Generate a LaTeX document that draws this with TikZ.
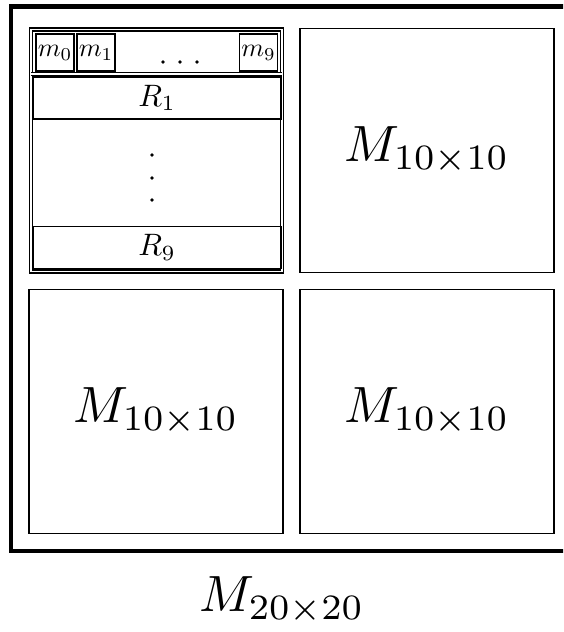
\documentclass[tikz,border=0pt]{standalone}
\usepackage{amsmath}
\usetikzlibrary{positioning}
\newcommand{\bigsym}[2][2.55]{\scalebox{#1}{$#2$}}
\tikzset{
  cellbox/.style={draw, line width=0.8pt, minimum width=127pt, minimum height=122pt, inner sep=0pt},
  rowbox/.style={draw, line width=0.7pt, minimum width=124pt, minimum height=21pt, inner sep=0pt},
  mbox/.style={draw, line width=0.7pt, minimum width=19pt, minimum height=18.5pt, inner sep=0pt},
  dblbox/.style={draw, line width=0.6pt, double, double distance=0.9pt, inner sep=0pt},
}

\begin{document}
\begin{tikzpicture}[x=0.5pt, y=-0.5pt]
  \useasboundingbox (0,0) rectangle (563,632);
  \clip (0,0) rectangle (563,632);

  % outer frame of the big matrix
  \draw[line width=2.2pt] (11,6.5) rectangle (600,551);

  % upper left block, split into rows
  \node[dblbox, minimum width=125.5pt, minimum height=121pt] (blk) at (156.5,150.5) {};
  \coordinate (sepL) at (31,74);
  \coordinate (sepR) at (282,74);
  \draw[line width=0.6pt, double, double distance=0.9pt] (sepL) -- (sepR);

  \node[mbox] (m0) at (55,52.5) {\bigsym[1.3]{m_0}};
  \node[mbox] (m1) at (96,52.5) {\bigsym[1.3]{m_1}};
  \node[mbox] (m9) at (258.5,52.5) {\bigsym[1.3]{m_9}};
  \foreach \x in {163,180,197}
    \fill (\x,62) circle (0.9pt);

  \node[rowbox] (r1) at (157,98) {\bigsym[1.55]{R_1}};
  \foreach \y in {155,178,200}
    \fill (152,\y) circle (0.9pt);
  \node[rowbox] (r9) at (157,247.5) {\bigsym[1.55]{R_9}};

  % the other three blocks
  \node[cellbox] (tr) at (427,150.5) {\bigsym{M_{10\times 10}}};
  \node[cellbox] (bl) at (156,411.5) {\bigsym{M_{10\times 10}}};
  \node[cellbox] (br) at (427,411.5) {\bigsym{M_{10\times 10}}};

  \node (whole) at (282,600) {\bigsym{M_{20\times 20}}};
\end{tikzpicture}
\end{document}
